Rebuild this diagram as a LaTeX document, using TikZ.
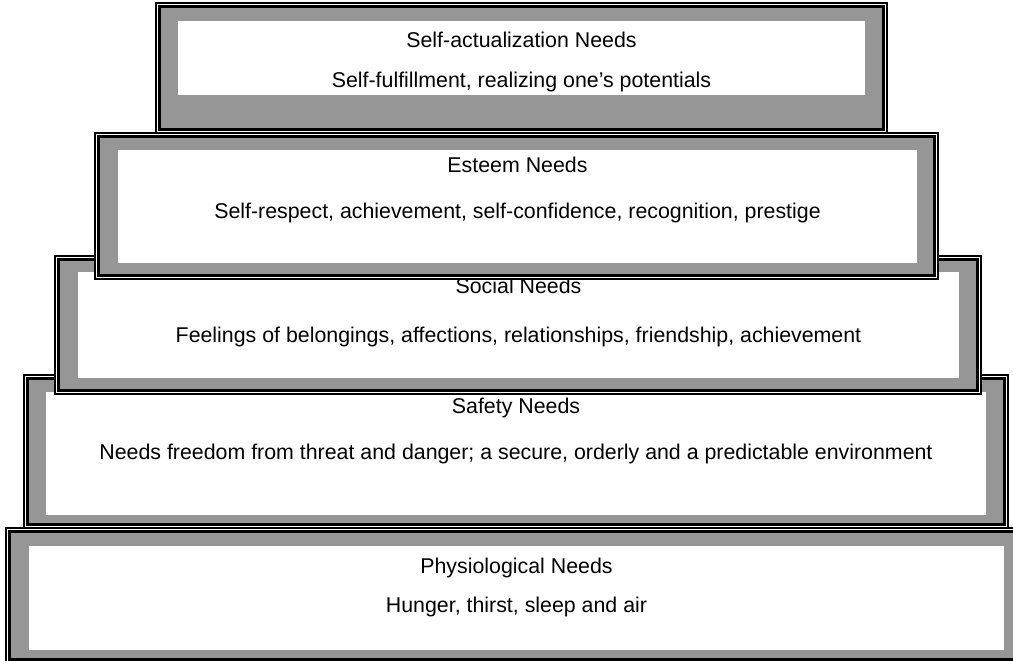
\documentclass[tikz,border=0pt]{standalone}
\usepackage{fontspec}
\setmainfont{Liberation Sans}
\usetikzlibrary{fit}
\definecolor{tiergray}{RGB}{150,150,150}
\tikzset{
  tier/.style={draw=black, fill=tiergray, line width=1.3pt, inner sep=0pt, outer sep=0pt},
  gap/.style={draw=white, line width=1.6pt},
  rule/.style={draw=black, line width=2.6pt},
  page/.style={fill=white, inner sep=0pt, outer sep=0pt},
  need/.style={font=\fontsize{21.35}{25}\selectfont, anchor=base, inner sep=0pt}
}
\begin{document}
\begin{tikzpicture}[x=1pt,y=-1pt]
\clip (0,0) rectangle (1013,661);
% lowest tier first, each upper tier lies over the one below
\foreach \lvl/\xa/\ya/\xb/\yb/\pa/\pb/\pc/\pd/\ha/\hb/\head/\body in {
  physio/6/528/1027/663/29/546/1004/650/573.5/612.5/{Physiological Needs}/{Hunger, thirst, sleep and air},
  safety/24/375/1008/528/46/392/986/515/413.5/459.5/{Safety Needs}/{Needs freedom from threat and danger; a secure, orderly and a predictable environment},
  social/55/256/981/394/78/272/959/378/293.5/342.5/{Social Needs}/{Feelings of belongings, affections, relationships, friendship, achievement},
  esteem/95/133/938/279/118/150/917/263/172.5/218.5/{Esteem Needs}/{Self-respect, achievement, self-confidence, recognition, prestige},
  selfact/156/3/887/133/178/21/865/95/47.5/87.5/{Self-actualization Needs}/{Self-fulfillment, realizing one’s potentials}}
{
  \node[tier, fit={(\xa,\ya) (\xb,\yb)}] (\lvl) {};
  \draw[gap] ([shift={(1.45pt,-1.45pt)}]\lvl.north west) rectangle ([shift={(-1.45pt,1.45pt)}]\lvl.south east);
  \draw[rule] ([shift={(3.55pt,-3.55pt)}]\lvl.north west) rectangle ([shift={(-3.55pt,3.55pt)}]\lvl.south east);
  \node[page, fit={(\pa,\pb) (\pc,\pd)}] (\lvl page) {};
  \node[need] (\lvl head) at ({(\pa+\pc)/2},\ha) {\head};
  \node[need] (\lvl text) at ({(\pa+\pc)/2},\hb) {\body};
}
\end{tikzpicture}
\end{document}
